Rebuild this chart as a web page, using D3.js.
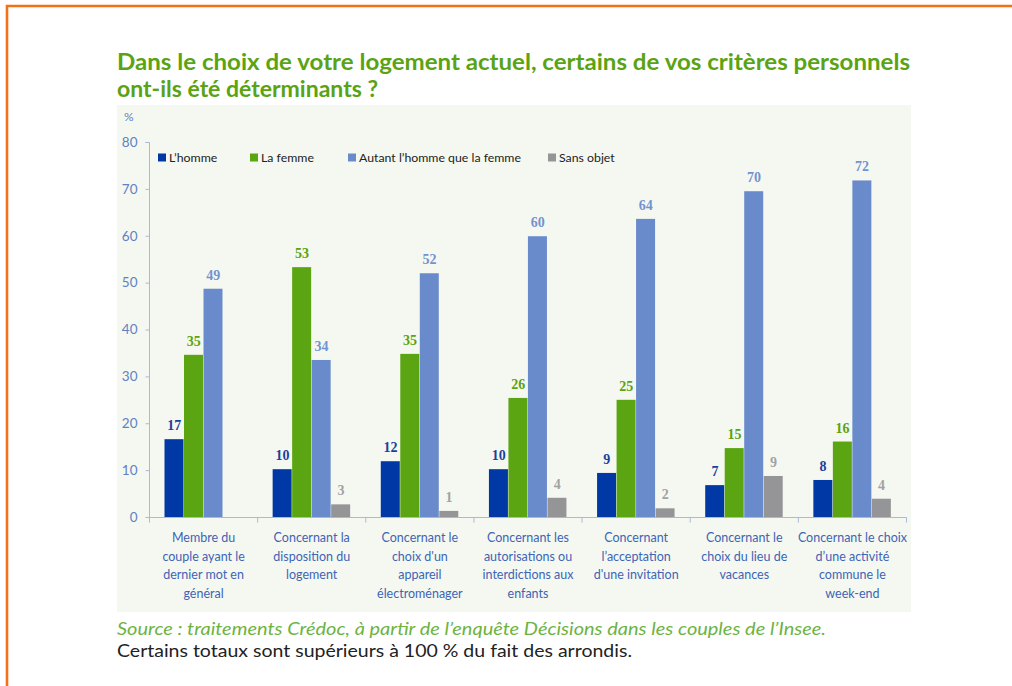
<!DOCTYPE html>
<html><head><meta charset="utf-8">
<script src="https://cdn.jsdelivr.net/npm/d3@7"></script>
<style>
html,body{margin:0;padding:0;background:#fff;}
svg{display:block;}
</style></head>
<body>
<svg id="chart" width="1012" height="686"></svg>
<script>
const categories = [
  ["Membre du","couple ayant le","dernier mot en","général"],
  ["Concernant la","disposition du","logement"],
  ["Concernant le","choix d'un","appareil","électroménager"],
  ["Concernant les","autorisations ou","interdictions aux","enfants"],
  ["Concernant","l’acceptation","d'une invitation"],
  ["Concernant le","choix du lieu de","vacances"],
  ["Concernant le choix","d’une activité","commune le","week-end"]
];
const seriesNames = ["L’homme","La femme","Autant l’homme que la femme","Sans objet"];
const homme   = [16.6, 10.2, 11.9, 10.2, 9.4, 6.8, 7.9];
const femme   = [34.6, 53.3, 34.8, 25.4, 25.0, 14.7, 16.1];
const autant  = [48.7, 33.5, 52.0, 59.9, 63.6, 69.5, 71.8];
const sansObj = [null, 2.7, 1.3, 4.1, 1.85, 8.75, 3.9];
const labHomme  = [17, 10, 12, 10, 9, 7, 8];
const labFemme  = [35, 53, 35, 26, 25, 15, 16];
const labAutant = [49, 34, 52, 60, 64, 70, 72];
const labSans   = [null, 3, 1, 4, 2, 9, 4];
const yTicks = [0,10,20,30,40,50,60,70,80];

const barColors = ["#0039a6","#5ba512","#6a8bcb","#959598"];
const labelColors = ["#1d3f9c","#5aa312","#7393d0","#a2a2a4"];

const svg = d3.select("#chart");
const font = "Lato,'Open Sans',sans-serif";

// orange frame
svg.append("path").attr("d","M7,700 L7,6 L1020,6")
  .attr("fill","none").attr("stroke","#f37019").attr("stroke-width",2.6);

// title
svg.append("text").attr("x",117).attr("y",70)
  .attr("font-family",font).attr("font-weight","bold").attr("font-size",23)
  .attr("fill","#5aa312").attr("textLength",793).attr("lengthAdjust","spacingAndGlyphs")
  .text("Dans le choix de votre logement actuel, certains de vos critères personnels");
svg.append("text").attr("x",117).attr("y",97)
  .attr("font-family",font).attr("font-weight","bold").attr("font-size",23)
  .attr("fill","#5aa312").attr("textLength",261).attr("lengthAdjust","spacingAndGlyphs")
  .text("ont-ils été déterminants ?");

// panel
svg.append("rect").attr("x",117).attr("y",105).attr("width",794).attr("height",507).attr("fill","#f5f8f1");

const x0 = d3.scaleBand().domain(d3.range(categories.length)).range([149.5,906.5]).padding(0);
const x1 = d3.scaleBand().domain(d3.range(4)).range([15,93]).padding(0);
const y = d3.scaleLinear().domain([0,80]).range([517,142]);

const axisColor = "#a9b9d9";
// y axis
const yAxis = svg.append("g").attr("transform","translate(149.5,0)")
  .call(d3.axisLeft(y).tickValues(yTicks).tickSize(4).tickPadding(8));
yAxis.select(".domain").attr("stroke",axisColor).attr("d","M-4,142.5H0V517.5");
yAxis.selectAll(".tick line").attr("stroke",axisColor);
yAxis.selectAll(".tick text").attr("font-family",font).attr("font-size",13.5).attr("fill","#5f80c2");

svg.append("text").attr("x",124).attr("y",121).attr("font-family",font).attr("font-size",12)
  .attr("fill","#5f80c2").text("%");

// x axis
const xAxis = svg.append("g").attr("transform","translate(0,517.5)");
xAxis.append("line").attr("x1",149.5).attr("x2",906.5).attr("stroke",axisColor);
const bounds = d3.range(categories.length+1).map(i => i<categories.length ? x0(i) : x0(i-1)+x0.bandwidth());
xAxis.selectAll("line.tk").data(bounds).join("line").attr("class","tk")
  .attr("x1",d=>d).attr("x2",d=>d).attr("y1",0).attr("y2",5).attr("stroke",axisColor);

// bars
const series = [homme, femme, autant, sansObj];
const labels = [labHomme, labFemme, labAutant, labSans];
const groups = svg.append("g");
series.forEach((vals, s) => {
  const data = vals.map((v,i)=>({i, v, lab: labels[s][i]})).filter(d=>d.v!=null);
  groups.selectAll("rect.s"+s).data(data).join("rect").attr("class","s"+s)
    .attr("x",d=>x0(d.i)+x1(s)).attr("width",x1.bandwidth()-0.5)
    .attr("y",d=>y(d.v)).attr("height",d=>y(0)-y(d.v))
    .attr("fill",barColors[s]);
  groups.selectAll("text.s"+s).data(data).join("text").attr("class","s"+s)
    .attr("x",d=>x0(d.i)+x1(s)+x1.bandwidth()/2).attr("y",d=>y(d.v)-9)
    .attr("text-anchor","middle").attr("font-family","'Liberation Serif',serif").attr("font-weight","bold")
    .attr("font-size",14).attr("fill",labelColors[s]).text(d=>d.lab);
});

// category labels
categories.forEach((lines,i)=>{
  const t = svg.append("text").attr("x",x0(i)+x0.bandwidth()/2).attr("y",542)
    .attr("text-anchor","middle").attr("font-family",font).attr("font-size",12.5).attr("fill","#3d64b6");
  lines.forEach((l,k)=>t.append("tspan").attr("x",x0(i)+x0.bandwidth()/2).attr("y",542+k*18.6).text(l));
});

// legend
const legX = [158,250,348,548];
seriesNames.forEach((n,s)=>{
  svg.append("rect").attr("x",legX[s]).attr("y",153.5).attr("width",8).attr("height",8).attr("fill",barColors[s]);
  svg.append("text").attr("x",legX[s]+11).attr("y",162).attr("font-family",font).attr("font-size",12.3)
    .attr("fill","#222").text(n);
});

// source & note
svg.append("text").attr("x",117).attr("y",635).attr("font-family",font).attr("font-style","italic")
  .attr("font-size",17).attr("fill","#6cb33f").attr("textLength",709).attr("lengthAdjust","spacingAndGlyphs")
  .text("Source : traitements Crédoc, à partir de l’enquête Décisions dans les couples de l’Insee.");
svg.append("text").attr("x",117).attr("y",657).attr("font-family",font)
  .attr("font-size",17).attr("fill","#222").attr("textLength",515).attr("lengthAdjust","spacingAndGlyphs")
  .text("Certains totaux sont supérieurs à 100 % du fait des arrondis.");
</script>
</body></html>
